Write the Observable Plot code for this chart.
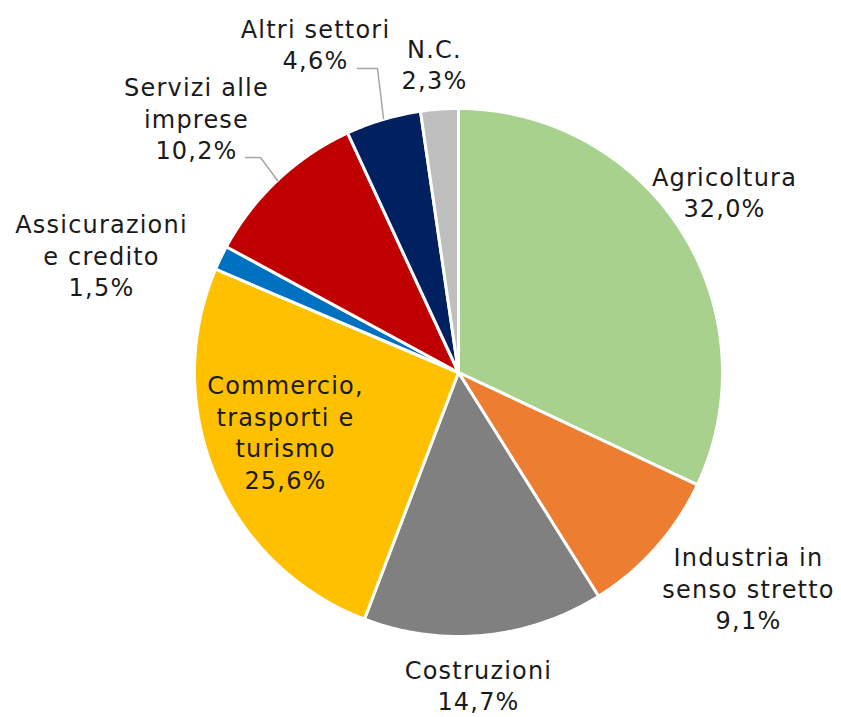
<!DOCTYPE html>
<html><head><meta charset="utf-8">
<script src="https://cdn.jsdelivr.net/npm/d3@7"></script>
<script src="https://cdn.jsdelivr.net/npm/@observablehq/plot@0.6"></script>
<style>body{margin:0;background:#fff} svg text{letter-spacing:1.2px}</style>
</head><body><div id="chart"></div>
<script>
// ---- data ----
const categories = ["Agricoltura", "Industria in\nsenso stretto", "Costruzioni", "Commercio,\ntrasporti e\nturismo", "Assicurazioni\ne credito", "Servizi alle\nimprese", "Altri settori", "N.C."];
const values = [32.0, 9.1, 14.7, 25.6, 1.5, 10.2, 4.6, 2.3];
const colors = ["#A9D18E", "#ED7D31", "#808080", "#FFC000", "#0070C0", "#C00000", "#002060", "#BFBFBF"];

// ---- layout (pixels) ----
const cx = 458, cy = 372, R = 264;
const labelPos = [[724,191],[748,587],[478,684],[285,431],[101,254],[196,117],[315,43],[434,63]];
const leaderPaths = [
  {k: 5, pts: [[245,157],[260,157],[277,180]]},
  {k: 6, pts: [[357,68],[377,68],[383,118]]}
];

const total = d3.sum(values);
const slicePts = [];
let acc = 0;
values.forEach((v, i) => {
  const a0 = acc / total * 2 * Math.PI;
  acc += v;
  const a1 = acc / total * 2 * Math.PI;
  const k = categories[i];
  slicePts.push({k, x: cx, y: cy});
  const n = Math.max(2, Math.ceil((a1 - a0) / (Math.PI / 360)));
  for (let j = 0; j <= n; j++) {
    const a = a0 + (a1 - a0) * j / n;
    slicePts.push({k, x: cx + R * Math.sin(a), y: cy - R * Math.cos(a)});
  }
});

const fmt = v => v.toFixed(1).replace(".", ",") + "%";
const labels = categories.map((c, i) => ({
  x: labelPos[i][0], y: labelPos[i][1], text: c + "\n" + fmt(values[i])
}));
const leaders = leaderPaths.flatMap(l => l.pts.map(p => ({k: l.k, x: p[0], y: p[1]})));

const chart = Plot.plot({
  width: 841, height: 717, margin: 0,
  x: {domain: [0, 841], range: [0, 841], axis: null},
  y: {domain: [0, 717], range: [0, 717], axis: null},
  color: {type: "ordinal", domain: categories, range: colors},
  marks: [
    Plot.line(slicePts, {x: "x", y: "y", z: "k", fill: "k", stroke: "white", strokeWidth: 3, strokeLinejoin: "round", curve: "linear-closed"}),
    Plot.line(leaders, {x: "x", y: "y", z: "k", stroke: "#A6A6A6", strokeWidth: 1.5}),
    Plot.text(labels, {x: "x", y: "y", text: "text", fontSize: 24, lineHeight: 1.31, fill: "#1a1a1a", fontFamily: "DejaVu Sans"})
  ]
});
document.getElementById("chart").appendChild(chart);
</script>
</body></html>
